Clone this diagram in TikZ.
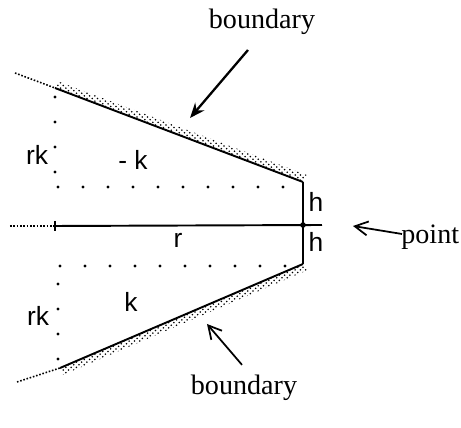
\documentclass[tikz,border=0pt]{standalone}
\usepackage{fontspec}
\setmainfont{Liberation Serif}
\setsansfont{Liberation Sans}
\usetikzlibrary{arrows.meta,patterns}

\begin{document}
\begin{tikzpicture}[x=0.02cm, y=-0.02cm,
  edge/.style={line width=1.1pt},
  ext/.style={densely dotted, line width=0.9pt},
  band/.style={pattern=crosshatch dots, pattern color=black, draw=none},
  lbl/.style={font=\sffamily\fontsize{15}{17}\selectfont, inner sep=0pt},
  note/.style={font=\fontsize{16}{18}\selectfont, inner sep=0pt},
  pointer/.style={-{Straight Barb[length=2.6mm, width=2.8mm]}, line width=1pt},
  spot/.style={fill, circle, inner sep=0pt, minimum size=3.2pt}
]
\useasboundingbox (0,0) rectangle (461,428);
% corners of the wedge
\coordinate (ua) at (55,88);
\coordinate (ub) at (303,182);
\coordinate (la) at (60,368);
\coordinate (lb) at (303,264);
\coordinate (ma) at (55,226);
\coordinate (mb) at (322,225);
\coordinate (ue) at (15,73);
\coordinate (le) at (17,382);
\coordinate (me) at (10,226);
\node[spot] (pt) at (303,225) {};
% shaded boundary strips
\fill[band] (ua) -- (ub) -- (307,175) -- (57,81) -- cycle;
\fill[band] (la) -- (lb) -- (308,270) -- (63,375) -- cycle;
% solid lines
\draw[edge] (ua) -- (ub);
\draw[edge] (la) -- (lb);
\draw[edge] (ma) -- (mb);
\draw[edge] (ub) -- (lb);
\draw[edge] (55,221) -- (55,231);
\draw[ext] (ue) -- (ua);
\draw[ext] (le) -- (la);
\draw[ext] (me) -- (ma);
% sparse dots
\foreach \x in {58,83,...,285} {
  \fill (\x,187) circle (1.6);
  \fill (\x+2,266) circle (1.6);
}
\foreach \y in {97,122,147,172} \fill (55,\y) circle (1.6);
\foreach \y in {284,309,334,359} \fill (58,\y) circle (1.6);
% labels
\node[lbl] (rkup) at (37,155) {rk};
\node[lbl] (kup) at (133,160) {- k};
\node[lbl] (hup) at (316,202) {h};
\node[lbl] (hlo) at (316,242) {h};
\node[lbl] (r) at (178,240) {r};
\node[lbl] (rklo) at (38,316) {rk};
\node[lbl] (klo) at (131,302) {k};
\node[note] (bup) at (262,22) {boundary};
\node[note] (blo) at (244,388) {boundary};
\node[note, anchor=west] (pnt) at (401,237) {point};
% pointers
\coordinate (bupt) at (190,118);
\coordinate (blot) at (207,324);
\coordinate (pntt) at (353,226);
\draw[-{Stealth[length=3mm, width=2.4mm]}, line width=1.3pt] (248,50) -- (bupt);
\draw[pointer] (blo.north) ++(-2,-10) -- (blot);
\draw[pointer] (pnt.west) ++(1,-3) -- (pntt);
\end{tikzpicture}
\end{document}
